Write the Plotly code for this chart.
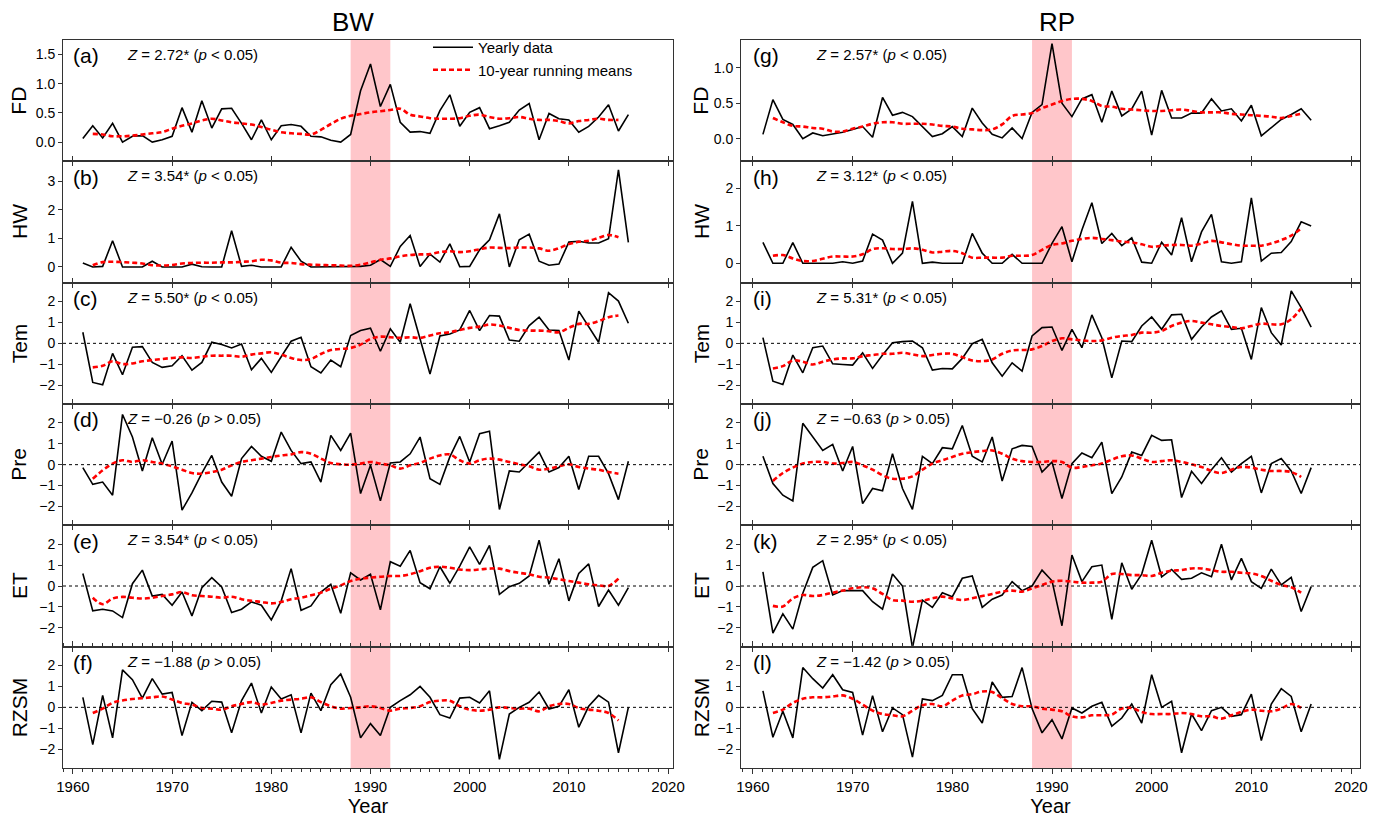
import plotly.graph_objects as go
from plotly.subplots import make_subplots

years = list(range(1961, 2017))
rm_years = list(range(1962, 2016))

# ---------------- BW ----------------
BW_FD = [0.06, 0.28, 0.07, 0.32, 0.0, 0.10, 0.11, 0.0, 0.04, 0.10,
         0.59, 0.17, 0.71, 0.24, 0.57, 0.58, 0.32, 0.04, 0.38, 0.04,
         0.28, 0.30, 0.27, 0.10, 0.09, 0.03, 0.0, 0.13, 0.88, 1.34,
         0.61, 0.99, 0.34, 0.17, 0.18, 0.15, 0.54, 0.81, 0.27, 0.51,
         0.59, 0.23, 0.28, 0.34, 0.55, 0.66, 0.04, 0.49, 0.40, 0.38,
         0.17, 0.27, 0.43, 0.64, 0.19, 0.47]
BW_FD_rm = [0.14, 0.13, 0.10, 0.10, 0.11, 0.13, 0.15, 0.17, 0.23,
            0.28, 0.32, 0.37, 0.40, 0.37, 0.34, 0.32, 0.30, 0.26, 0.21,
            0.17, 0.15, 0.14, 0.13, 0.21, 0.31, 0.40, 0.45, 0.48, 0.51,
            0.53, 0.55, 0.57, 0.47, 0.44, 0.41, 0.40, 0.40, 0.41, 0.45,
            0.47, 0.43, 0.40, 0.41, 0.43, 0.40, 0.38, 0.38, 0.36, 0.32,
            0.36, 0.38, 0.40, 0.38, 0.38]
BW_HW = [0.14, 0.0, 0.02, 0.92, 0.0, 0.0, 0.0, 0.2, 0.0, 0.0,
         0.0, 0.1, 0.01, 0.0, 0.0, 1.27, 0.02, 0.06, 0.0, 0.0,
         0.0, 0.69, 0.2, 0.0, 0.0, 0.01, 0.0, 0.0, 0.02, 0.06,
         0.26, 0.02, 0.72, 1.10, 0.02, 0.45, 0.17, 0.81, 0.01, 0.02,
         0.6, 0.95, 1.86, 0.0, 0.95, 1.15, 0.2, 0.06, 0.10, 0.87,
         0.90, 0.84, 0.84, 0.99, 3.40, 0.86]
BW_HW_rm = [0.06, 0.17, 0.18, 0.17, 0.15, 0.12, 0.06, 0.05, 0.07,
            0.12, 0.14, 0.15, 0.15, 0.16, 0.16, 0.18, 0.20, 0.25, 0.23,
            0.15, 0.14, 0.10, 0.08, 0.07, 0.06, 0.05, 0.04, 0.08, 0.16,
            0.25, 0.30, 0.37, 0.42, 0.44, 0.45, 0.52, 0.55, 0.52, 0.55,
            0.62, 0.68, 0.67, 0.66, 0.68, 0.68, 0.65, 0.57, 0.66, 0.80,
            0.88, 0.92, 1.02, 1.12, 1.04]
BW_Tem = [0.53, -1.87, -1.98, -0.48, -1.5, -0.19, -0.16, -0.91, -1.15, -1.07,
          -0.59, -1.28, -0.91, 0.05, -0.06, -0.22, -0.03, -1.26, -0.72, -1.39,
          -0.64, 0.10, 0.29, -1.12, -1.42, -0.8, -1.12, 0.37, 0.61, 0.72,
          -0.38, 0.69, 0.05, 1.89, 0.21, -1.47, 0.35, 0.45, 0.64, 1.57,
          0.61, 1.33, 1.30, 0.16, 0.10, 0.85, 1.25, 0.64, 0.61, -0.8,
          1.54, 0.77, 0.05, 2.42, 2.02, 0.96]
BW_Tem_rm = [-1.15, -1.07, -0.86, -0.99, -0.96, -0.86, -0.8, -0.75, -0.7,
             -0.67, -0.7, -0.64, -0.59, -0.59, -0.59, -0.64, -0.54, -0.48, -0.43,
             -0.54, -0.7, -0.8, -0.75, -0.51, -0.32, -0.27, -0.22, -0.06, 0.21,
             0.32, 0.29, 0.26, 0.29, 0.26, 0.37, 0.48, 0.53, 0.64, 0.74,
             0.8, 0.9, 0.85, 0.74, 0.64, 0.61, 0.61, 0.58, 0.53, 0.74,
             0.93, 0.93, 1.06, 1.25, 1.33]
BW_Pre = [-0.14, -0.94, -0.83, -1.46, 2.4, 1.32, -0.3, 1.29, 0.02, 1.13,
          -2.17, -1.35, -0.4, 0.44, -0.83, -1.51, 0.29, 0.87, 0.4, 0.16,
          1.56, 0.68, 0.05, 0.13, -0.83, 1.4, 0.68, 1.51, -1.38, -0.03,
          -1.73, 0.08, 0.13, 0.52, 1.32, -0.67, -0.94, 0.37, 1.35, 0.13,
          1.48, 1.6, -2.14, -0.3, -0.35, 0.13, 0.6, -0.35, -0.14, 0.4,
          -1.19, 0.4, 0.4, -0.43, -1.67, 0.16]
BW_Pre_rm = [-0.67, -0.27, 0.05, 0.21, 0.13, 0.21, 0.13, 0.05, -0.08,
             -0.24, -0.4, -0.43, -0.35, -0.24, -0.03, 0.13, 0.21, 0.29, 0.37,
             0.44, 0.49, 0.6, 0.52, 0.29, 0.08, 0.02, 0.0, 0.05, 0.13,
             0.05, -0.03, -0.19, -0.03, 0.08, 0.29, 0.44, 0.49, 0.21, 0.05,
             0.21, 0.29, 0.24, 0.13, 0.02, -0.08, -0.24, -0.19, -0.08, 0.02,
             -0.11, -0.19, -0.24, -0.35, -0.43]
BW_ET = [0.6, -1.19, -1.11, -1.19, -1.51, 0.11, 0.76, -0.48, -0.4, -0.92,
         -0.29, -1.43, -0.08, 0.4, -0.05, -1.27, -1.11, -0.76, -0.92, -1.62,
         -0.71, 0.83, -1.16, -0.95, -0.29, 0.08, -1.3, 0.63, 0.29, 0.56,
         -1.14, 1.16, 0.95, 1.7, 0.16, -0.13, 0.92, 0.13, 0.95, 1.87,
         1.03, 1.94, -0.4, -0.03, 0.13, 0.48, 2.19, 0.08, 1.3, -0.71,
         0.6, 1.06, -0.98, -0.19, -0.92, -0.08]
BW_ET_rm = [-0.56, -0.87, -0.6, -0.52, -0.56, -0.6, -0.56, -0.48, -0.4,
            -0.29, -0.44, -0.48, -0.51, -0.56, -0.51, -0.63, -0.71, -0.76, -0.83,
            -0.76, -0.63, -0.56, -0.44, -0.32, -0.13, 0.03, 0.24, 0.35, 0.4,
            0.44, 0.48, 0.48, 0.56, 0.71, 0.87, 0.92, 0.87, 0.79, 0.76,
            0.79, 0.83, 0.83, 0.71, 0.63, 0.56, 0.44, 0.4, 0.32, 0.24,
            0.16, 0.08, 0.03, 0.0, 0.35]
BW_RZSM = [0.48, -1.78, 0.57, -1.46, 1.79, 1.32, 0.44, 1.37, 0.63, 0.71,
           -1.35, 0.24, -0.16, 0.29, 0.25, -1.22, 0.32, 1.16, -0.27, 0.97,
           0.4, 0.6, -1.22, 0.68, -0.16, 1.08, 1.59, 0.48, -1.46, -0.78,
           -1.35, 0.0, 0.32, 0.6, 1.0, 0.48, -0.35, -0.51, 0.44, 0.48,
           0.21, 0.79, -2.49, -0.32, 0.0, 0.24, 0.73, -0.08, 0.05, 0.84,
           -0.95, 0.05, 0.57, 0.25, -2.17, 0.0]
BW_RZSM_rm = [-0.27, -0.06, 0.21, 0.33, 0.4, 0.44, 0.48, 0.52, 0.37,
              0.21, 0.13, -0.03, -0.06, -0.11, 0.05, 0.16, 0.25, 0.13, 0.21,
              0.32, 0.37, 0.41, 0.48, 0.25, 0.05, -0.06, -0.03, 0.0, 0.05,
              -0.03, -0.16, -0.06, -0.03, 0.05, 0.25, 0.32, 0.32, 0.05, -0.11,
              -0.16, -0.11, 0.0, -0.03, -0.06, -0.06, -0.19, 0.05, 0.16, 0.16,
              -0.03, -0.11, -0.16, -0.27, -0.63]

# ---------------- RP ----------------
RP_FD = [0.06, 0.55, 0.27, 0.2, 0.0, 0.08, 0.04, 0.06, 0.09, 0.13,
         0.17, 0.02, 0.58, 0.33, 0.37, 0.31, 0.17, 0.03, 0.07, 0.17,
         0.03, 0.43, 0.22, 0.06, 0.01, 0.15, 0.0, 0.37, 0.48, 1.34,
         0.5, 0.31, 0.56, 0.62, 0.23, 0.67, 0.32, 0.42, 0.67, 0.05,
         0.68, 0.29, 0.29, 0.36, 0.36, 0.56, 0.39, 0.42, 0.25, 0.47,
         0.04, 0.15, 0.27, 0.34, 0.42, 0.26]
RP_FD_rm = [0.29, 0.23, 0.18, 0.17, 0.15, 0.14, 0.1, 0.1, 0.14,
            0.17, 0.21, 0.23, 0.23, 0.21, 0.21, 0.21, 0.2, 0.18, 0.17,
            0.14, 0.13, 0.12, 0.13, 0.2, 0.32, 0.34, 0.36, 0.43, 0.48,
            0.53, 0.56, 0.56, 0.53, 0.46, 0.45, 0.42, 0.41, 0.4, 0.39,
            0.39, 0.4, 0.41, 0.39, 0.37, 0.37, 0.37, 0.35, 0.34, 0.33,
            0.32, 0.31, 0.29, 0.32, 0.35]
RP_HW = [0.56, 0.0, 0.0, 0.55, 0.0, 0.0, 0.0, 0.0, 0.04, 0.0,
         0.06, 0.78, 0.62, 0.0, 0.27, 1.66, 0.0, 0.03, 0.0, 0.0,
         0.0, 0.8, 0.27, 0.0, 0.0, 0.24, 0.0, 0.0, 0.0, 0.53,
         0.98, 0.04, 0.89, 1.62, 0.53, 0.8, 0.47, 0.68, 0.03, 0.0,
         0.56, 0.22, 1.22, 0.04, 0.84, 1.31, 0.04, 0.0, 0.04, 1.75,
         0.06, 0.27, 0.29, 0.58, 1.11, 1.0]
RP_HW_rm = [0.2, 0.22, 0.13, 0.06, 0.06, 0.12, 0.18, 0.18, 0.18,
            0.24, 0.38, 0.4, 0.38, 0.38, 0.4, 0.36, 0.29, 0.31, 0.33,
            0.27, 0.15, 0.15, 0.15, 0.15, 0.2, 0.2, 0.22, 0.36, 0.49,
            0.53, 0.6, 0.65, 0.68, 0.65, 0.62, 0.58, 0.56, 0.51, 0.44,
            0.47, 0.49, 0.49, 0.47, 0.53, 0.6, 0.56, 0.51, 0.47, 0.47,
            0.47, 0.53, 0.62, 0.74, 0.93]
RP_Tem = [0.27, -1.81, -1.97, -0.56, -1.41, -0.21, -0.13, -0.98, -1.01, -1.04,
          -0.45, -1.2, -0.56, 0.03, 0.08, 0.11, -0.21, -1.28, -1.2, -1.22,
          -0.72, -0.02, 0.19, -0.93, -1.57, -0.93, -1.33, 0.35, 0.75, 0.78,
          -0.34, 0.67, -0.21, 1.36, 0.27, -1.65, 0.11, 0.08, 0.83, 1.26,
          0.67, 1.36, 1.39, 0.19, 0.78, 1.26, 1.55, 0.67, 0.72, -0.77,
          1.71, 0.51, -0.08, 2.51, 1.71, 0.78]
RP_Tem_rm = [-1.2, -1.09, -0.82, -0.88, -1.01, -0.88, -0.77, -0.72, -0.72,
             -0.61, -0.56, -0.5, -0.5, -0.45, -0.53, -0.61, -0.56, -0.5, -0.5,
             -0.66, -0.82, -0.85, -0.77, -0.5, -0.34, -0.32, -0.29, -0.13, 0.11,
             0.24, 0.19, 0.14, 0.11, 0.14, 0.27, 0.35, 0.4, 0.51, 0.51,
             0.59, 0.83, 0.99, 1.07, 0.99, 0.91, 0.83, 0.78, 0.72, 0.83,
             0.94, 0.91, 0.91, 1.15, 1.68]
RP_Pre = [0.4, -0.9, -1.46, -1.73, 1.98, 1.32, 0.68, 0.97, -0.3, 0.87,
          -1.86, -1.14, -1.25, 0.52, -1.14, -2.14, 0.4, 0.05, 0.81, 0.76,
          1.87, 0.4, 0.13, 1.32, -0.78, 0.76, 0.92, 0.87, -0.35, 0.13,
          -1.62, 0.05, 0.56, 0.33, 1.08, -1.38, -0.59, 0.6, 0.44, 1.4,
          1.16, 1.19, -1.57, -0.32, -0.9, -0.24, 0.33, -0.35, 0.05, 0.4,
          -1.35, 0.05, 0.29, -0.3, -1.38, -0.14]
RP_Pre_rm = [-0.78, -0.4, -0.14, 0.05, 0.13, 0.13, 0.05, 0.08, 0.13,
             -0.03, -0.24, -0.51, -0.67, -0.67, -0.56, -0.24, 0.05, 0.21, 0.37,
             0.52, 0.6, 0.65, 0.68, 0.52, 0.29, 0.17, 0.13, 0.13, 0.17,
             0.13, -0.14, -0.11, -0.03, 0.05, 0.24, 0.4, 0.44, 0.29, 0.13,
             0.17, 0.21, 0.13, 0.02, -0.11, -0.3, -0.4, -0.24, -0.11, -0.14,
             -0.24, -0.3, -0.3, -0.35, -0.59]
RP_ET = [0.68, -2.25, -1.33, -2.06, -0.35, 0.89, 1.21, -0.43, -0.22, -0.22,
         -0.22, -0.75, -1.11, 0.57, 0.0, -2.95, -0.67, -1.02, -0.32, -0.51,
         0.37, 0.48, -1.02, -0.63, -0.43, 0.21, -0.22, 0.0, 0.76, 0.25,
         -1.9, 1.48, 0.21, 0.92, 1.0, -1.59, 1.11, -0.16, 0.57, 2.19,
         0.44, 0.79, 0.32, 0.37, 0.63, 0.44, 2.0, 0.29, 1.32, 0.21,
         -0.11, 0.81, 0.05, 0.41, -1.22, -0.03]
RP_ET_rm = [-0.95, -0.98, -0.59, -0.43, -0.48, -0.43, -0.32, -0.22, -0.11,
            -0.06, -0.11, -0.38, -0.67, -0.7, -0.75, -0.7, -0.59, -0.51, -0.59,
            -0.67, -0.59, -0.48, -0.38, -0.27, -0.22, -0.27, -0.11, 0.05, 0.21,
            0.25, 0.21, 0.16, 0.16, 0.21, 0.57, 0.57, 0.52, 0.52, 0.48,
            0.63, 0.73, 0.76, 0.84, 0.84, 0.76, 0.68, 0.68, 0.63, 0.6,
            0.48, 0.25, 0.05, -0.06, -0.32]
RP_RZSM = [0.79, -1.43, -0.19, -1.46, 1.9, 1.37, 0.92, 1.56, 0.84, 0.71,
           -1.33, 0.56, -1.17, -0.03, -0.35, -2.38, 0.4, 0.32, 0.57, 1.56,
           1.56, -0.06, -0.75, 1.21, 0.48, 0.52, 1.9, -0.06, -1.22, -0.59,
           -1.51, -0.03, -0.27, 0.05, 0.24, -0.9, -0.51, 0.16, -0.75, 1.56,
           0.0, 0.29, -2.17, -0.32, -1.11, -0.16, 0.0, -0.43, -0.35, 0.63,
           -1.59, 0.16, 0.89, 0.52, -1.17, 0.16]
RP_RZSM_rm = [-0.27, -0.11, 0.21, 0.41, 0.48, 0.48, 0.52, 0.57, 0.41,
              0.13, -0.16, -0.32, -0.38, -0.43, -0.16, 0.1, 0.16, 0.05, 0.32,
              0.57, 0.63, 0.76, 0.73, 0.44, 0.16, 0.05, 0.05, -0.06, -0.11,
              -0.19, -0.43, -0.48, -0.38, -0.38, -0.35, -0.06, -0.03, -0.22, -0.32,
              -0.32, -0.32, -0.27, -0.32, -0.43, -0.43, -0.54, -0.38, -0.22, -0.11,
              -0.16, -0.19, -0.06, 0.16, -0.03]

variables = ["FD", "HW", "Tem", "Pre", "ET", "RZSM"]
site_titles = ["BW", "RP"]
panel_letters = [["(a)", "(b)", "(c)", "(d)", "(e)", "(f)"],
                 ["(g)", "(h)", "(i)", "(j)", "(k)", "(l)"]]
z_values = [["2.72*", "3.54*", "5.50*", "\u22120.26", "3.54*", "\u22121.88"],
            ["2.57*", "3.12*", "5.31*", "\u22120.63", "2.95*", "\u22121.42"]]
p_signs = [["<", "<", "<", ">", "<", ">"],
           ["<", "<", "<", ">", "<", ">"]]
yearly = [[BW_FD, BW_HW, BW_Tem, BW_Pre, BW_ET, BW_RZSM],
          [RP_FD, RP_HW, RP_Tem, RP_Pre, RP_ET, RP_RZSM]]
running = [[BW_FD_rm, BW_HW_rm, BW_Tem_rm, BW_Pre_rm, BW_ET_rm, BW_RZSM_rm],
           [RP_FD_rm, RP_HW_rm, RP_Tem_rm, RP_Pre_rm, RP_ET_rm, RP_RZSM_rm]]

y_ranges = [[[-0.33, 1.75], [-0.55, 3.7], [-2.9, 2.9], [-2.9, 2.9], [-2.9, 2.9], [-2.9, 2.9]],
            [[-0.32, 1.39], [-0.52, 2.73], [-2.9, 2.9], [-2.9, 2.9], [-2.9, 2.9], [-2.9, 2.9]]]
y_dticks = [[0.5, 1, 1, 1, 1, 1], [0.5, 1, 1, 1, 1, 1]]
x_ranges = [[1959, 2020.5], [1958.8, 2020.9]]
z_x = [1965.2, 1966.1]
band = [1988, 1992]

FONT = "Liberation Sans, Arial, sans-serif"
FRAME = "#333333"

# The page body adds an 8 px margin; layout is computed in screen pixels and shifted.
OFF = 8
W, H = 1382 - OFF, 818 - OFF
SL, SR, ST, SB = 63, 1360, 40, 768          # plot area in screen pixels
ML, MR, MT, MB = SL - OFF, W - (SR - OFF), ST - OFF, H - (SB - OFF)
pw = W - ML - MR
ph = H - MT - MB


def px_x(sx):
    return (sx - SL) / pw


def px_y(sy):
    return 1 - (sy - ST) / ph


col_domains = [[0, px_x(673)], [px_x(741), 1]]
title_x = [px_x(353), px_x(1057)]

fig = make_subplots(rows=6, cols=2, vertical_spacing=0, horizontal_spacing=0.05)

for c in range(2):
    for r in range(6):
        row, col = r + 1, c + 1
        n = r * 2 + c + 1
        fig.add_trace(go.Scatter(x=years, y=yearly[c][r], mode="lines",
                                 line=dict(color="black", width=1.6),
                                 name="Yearly data", legendgroup="yearly",
                                 showlegend=(n == 1)), row=row, col=col)
        fig.add_trace(go.Scatter(x=rm_years, y=running[c][r], mode="lines",
                                 line=dict(color="#FF0000", width=2.6,
                                           dash="5px,3px", shape="spline"),
                                 name="10-year running means", legendgroup="rm",
                                 showlegend=(n == 1)), row=row, col=col)
        fig.add_vrect(x0=band[0], x1=band[1], fillcolor="#FFC6CA", opacity=1,
                      line_width=0, layer="below", row=row, col=col,
                      exclude_empty_subplots=False)
        if r >= 2:
            fig.add_hline(y=0, line=dict(color="black", width=1, dash="dot"),
                          row=row, col=col, exclude_empty_subplots=False)
        xa = "xaxis" if n == 1 else f"xaxis{n}"
        ya = "yaxis" if n == 1 else f"yaxis{n}"
        xdict = dict(domain=col_domains[c], range=x_ranges[c], showgrid=False,
                     zeroline=False, showline=True, linecolor=FRAME, linewidth=1,
                     mirror=True if r == 0 else "ticks", automargin=False,
                     ticks="outside", ticklen=4, tickcolor=FRAME,
                     tick0=1960, dtick=10, showticklabels=(r == 5),
                     tickfont=dict(size=15, color="black"))
        if r == 5:
            xdict.update(ticklen=5, minor=dict(dtick=1, tick0=1960, ticks="outside",
                                               ticklen=3, tickcolor=FRAME),
                         title=dict(text="Year", font=dict(size=20, color="black"),
                                    standoff=3))
        fig.layout[xa].update(xdict)
        yfmt = ".1f" if r == 0 else "d"
        fig.layout[ya].update(dict(range=y_ranges[c][r], dtick=y_dticks[c][r], tick0=0,
                                   showgrid=False, zeroline=False, showline=True,
                                   linecolor=FRAME, linewidth=1, mirror=True,
                                   automargin=False,
                                   ticks="outside", ticklen=4, tickcolor=FRAME,
                                   tickformat=yfmt,
                                   tickfont=dict(size=14, color="black")))
        xref = "x" if n == 1 else f"x{n}"
        yref = "y" if n == 1 else f"y{n}"
        fig.add_annotation(x=1959.8, xref=xref, y=0.87, yref=f"{yref} domain",
                           text=panel_letters[c][r], showarrow=False,
                           xanchor="left", yanchor="middle",
                           font=dict(size=21, color="black"))
        fig.add_annotation(x=z_x[c], xref=xref, y=0.88, yref=f"{yref} domain",
                           text=f"<i>Z</i> = {z_values[c][r]} (<i>p</i> "
                                f"{'&lt;' if p_signs[c][r] == '<' else '&gt;'} 0.05)",
                           showarrow=False, xanchor="left", yanchor="middle",
                           font=dict(size=15, color="black"))
        ycen = 1 - (r + 0.5) / 6
        xt = px_x(19) if c == 0 else px_x(701)
        fig.add_annotation(x=xt, xref="paper", y=ycen, yref="paper",
                           text=variables[r], textangle=-90, showarrow=False,
                           xanchor="center", yanchor="middle",
                           font=dict(size=21, color="black"))
    fig.add_annotation(x=title_x[c], xref="paper",
                       y=px_y(22), yref="paper", text=site_titles[c],
                       showarrow=False, xanchor="center", yanchor="middle",
                       font=dict(size=26, color="black"))

fig.update_layout(
    width=W, height=H,
    margin=dict(l=ML, r=MR, t=MT, b=MB),
    paper_bgcolor="white", plot_bgcolor="white",
    font=dict(family=FONT, color="black"),
    legend=dict(x=px_x(428), y=px_y(31), xanchor="left", yanchor="top",
                bgcolor="rgba(0,0,0,0)", font=dict(size=15, color="black"),
                tracegroupgap=0, itemwidth=40),
)

fig.write_html("out.html")
